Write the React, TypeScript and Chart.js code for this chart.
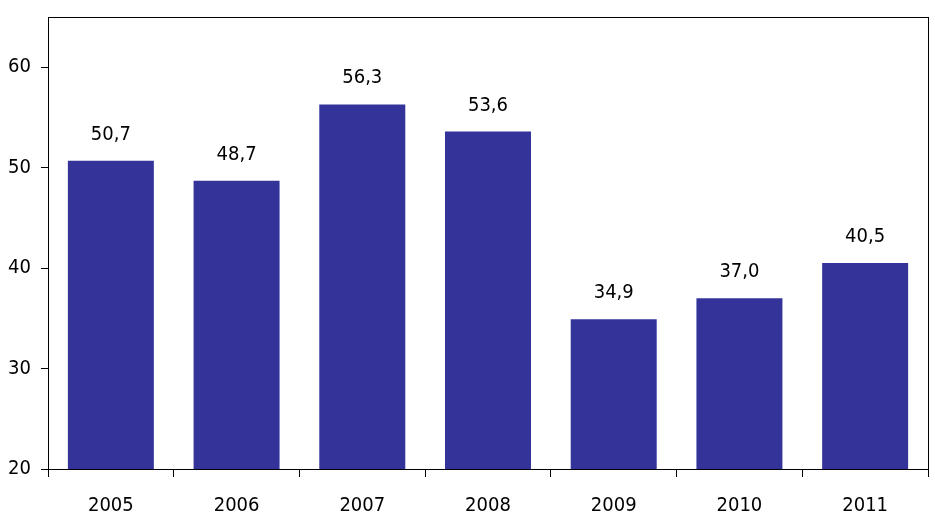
import React, { useEffect, useRef } from "react";
import { Chart, registerables } from "chart.js";

Chart.register(...registerables);

const categories = ["2005", "2006", "2007", "2008", "2009", "2010", "2011"];
const values = [50.7, 48.7, 56.3, 53.6, 34.9, 37.0, 40.5];
const yTicks = [20, 30, 40, 50, 60];

const FONT = "'DejaVu Sans Condensed', 'DejaVu Sans', sans-serif";

const frameAndLabels = {
  id: "frameAndLabels",
  afterDatasetsDraw(chart: any) {
    const { ctx, chartArea } = chart;
    ctx.save();
    ctx.strokeStyle = "#000";
    ctx.lineWidth = 1;
    ctx.strokeRect(
      Math.round(chartArea.left) + 0.5,
      Math.round(chartArea.top) + 0.5,
      Math.round(chartArea.right - chartArea.left),
      Math.round(chartArea.bottom - chartArea.top)
    );
    const meta = chart.getDatasetMeta(0);
    ctx.fillStyle = "#000";
    ctx.font = `20px ${FONT}`;
    ctx.textAlign = "center";
    ctx.textBaseline = "alphabetic";
    meta.data.forEach((bar: any, i: number) => {
      const txt = values[i].toFixed(1).replace(".", ",");
      ctx.fillText(txt, bar.x, bar.y - 21);
    });
    ctx.restore();
  },
};

export default function App() {
  const ref = useRef<HTMLCanvasElement>(null);
  useEffect(() => {
    if (!ref.current) return;
    const chart = new Chart(ref.current, {
      type: "bar",
      data: {
        labels: categories,
        datasets: [
          {
            data: values,
            backgroundColor: "#333399",
            borderWidth: 0,
            barPercentage: 0.684,
            categoryPercentage: 1,
          },
        ],
      },
      options: {
        responsive: false,
        animation: false,
        devicePixelRatio: 1,
        layout: { padding: { top: 17, right: 7, left: 0, bottom: 0 } },
        plugins: { legend: { display: false }, tooltip: { enabled: false } },
        scales: {
          x: {
            grid: {
              display: true,
              drawOnChartArea: false,
              drawTicks: true,
              tickLength: 8,
              color: "#000",
              offset: true,
            },
            border: { display: true, color: "#000" },
            ticks: {
              color: "#000",
              font: { family: FONT, size: 20 },
              padding: 17,
              maxRotation: 0,
            },
            afterFit: (scale: any) => {
              scale.height = 53;
              scale.paddingLeft = 0;
              scale.paddingRight = 0;
            },
          },
          y: {
            min: 20,
            max: 65,
            grid: {
              display: true,
              drawOnChartArea: false,
              drawTicks: true,
              tickLength: 7,
              color: "#000",
            },
            border: { display: true, color: "#000" },
            ticks: {
              stepSize: 10,
              color: "#000",
              font: { family: FONT, size: 20 },
              padding: 10,
            },
            afterBuildTicks: (scale: any) => {
              scale.ticks = yTicks.map((v) => ({ value: v }));
            },
            afterFit: (scale: any) => {
              scale.width = 48;
              scale.paddingTop = 0;
              scale.paddingBottom = 0;
            },
          },
        },
      },
      plugins: [frameAndLabels],
    });
    return () => chart.destroy();
  }, []);
  return (
    <div style={{ position: "fixed", left: 0, top: 0, width: 935, height: 522, background: "#fff" }}>
      <canvas ref={ref} width={935} height={522} style={{ display: "block" }} />
    </div>
  );
}
